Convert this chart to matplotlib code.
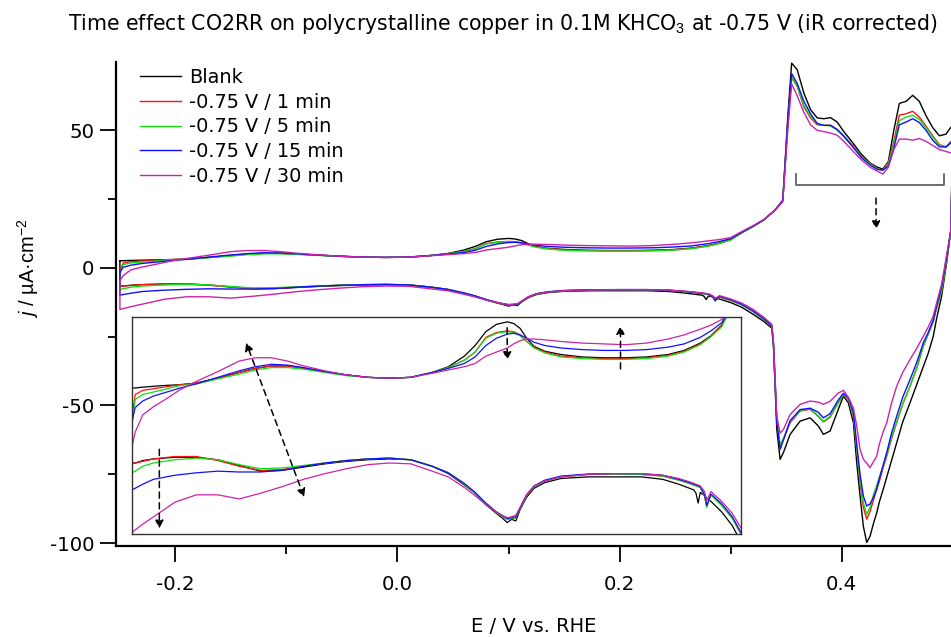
import numpy as np
import matplotlib
matplotlib.use("Agg")
import matplotlib.pyplot as plt
from matplotlib.ticker import MultipleLocator, FormatStrFormatter

plt.rcParams['font.family'] = ['DejaVu Sans']
plt.rcParams['axes.unicode_minus'] = False
plt.rcParams['mathtext.fontset'] = 'custom'
plt.rcParams['mathtext.rm'] = 'Liberation Sans'
plt.rcParams['mathtext.it'] = 'Liberation Sans:italic'

# potential grid, anodic (forward) scan, V vs RHE
e_up = [-0.25, -0.247, -0.24, -0.23, -0.22, -0.205, -0.19, -0.17, -0.15, -0.135,
        -0.12, -0.105, -0.09, -0.07, -0.05, -0.03, -0.01, 0.01, 0.03, 0.045,
        0.06, 0.07, 0.08, 0.09, 0.1, 0.106, 0.112, 0.118, 0.125, 0.135,
        0.15, 0.17, 0.19, 0.21, 0.23, 0.25, 0.265, 0.28, 0.29, 0.3,
        0.31, 0.32, 0.33, 0.34, 0.347, 0.3515, 0.355, 0.36, 0.366, 0.372,
        0.378, 0.384, 0.39, 0.396, 0.402, 0.41, 0.418, 0.426, 0.432, 0.437,
        0.442, 0.447, 0.452, 0.458, 0.464, 0.47, 0.476, 0.482, 0.488, 0.494,
        0.5]

# potential grid, cathodic (return) scan
e_down = [0.4984, 0.4945, 0.49, 0.4855, 0.4825, 0.478, 0.4735, 0.468, 0.4616, 0.455,
          0.4496, 0.445, 0.4406, 0.4375, 0.434, 0.4316, 0.4286, 0.4256, 0.4226, 0.4196,
          0.4166, 0.4136, 0.4106, 0.406, 0.4016, 0.397, 0.3896, 0.3836, 0.3791, 0.3716,
          0.3626, 0.3536, 0.3476, 0.3446, 0.3416, 0.3386, 0.3371, 0.33, 0.32, 0.31,
          0.3, 0.29, 0.286, 0.284, 0.28, 0.278, 0.276, 0.274, 0.27, 0.26,
          0.245, 0.225, 0.2, 0.175, 0.15, 0.135, 0.125, 0.118, 0.112, 0.108,
          0.104, 0.1, 0.095, 0.09, 0.08, 0.07, 0.06, 0.045, 0.03, 0.01,
          -0.01, -0.03, -0.05, -0.07, -0.09, -0.11, -0.13, -0.15, -0.17, -0.19,
          -0.21, -0.23, -0.24, -0.247, -0.25]

# current density, uA/cm2
blank_up = [2.6, 2.6, 2.7, 2.8, 2.9, 3.0, 3.2, 3.8, 4.5, 5.0,
            5.3, 5.3, 5.0, 4.6, 4.2, 3.9, 3.8, 3.9, 4.5, 5.2,
            6.5, 7.8, 9.5, 10.4, 10.7, 10.5, 9.9, 8.7, 7.7, 7.1,
            6.7, 6.4, 6.3, 6.3, 6.4, 6.7, 7.2, 8.1, 9.0, 10.3,
            12.8, 15.0, 17.5, 21.0, 24.5, 55.0, 74.4, 72.0, 63.5, 57.5,
            54.5, 54.2, 54.6, 53.0, 49.5, 45.5, 41.2, 38.0, 36.6, 35.9,
            38.5, 50.0, 59.8, 60.5, 62.7, 60.5, 55.3, 51.0, 48.0, 48.6,
            52.0]
blank_down = [13.8, 1.7, -10.4, -18.5, -24.9, -31.0, -36.0, -42.0, -49.0, -56.0,
              -63.5, -70.0, -76.0, -80.4, -85.0, -89.0, -93.0, -97.5, -99.8, -94.0,
              -82.9, -70.8, -56.3, -49.0, -46.6, -51.4, -59.3, -60.5, -57.5, -54.5,
              -55.7, -60.5, -67.1, -69.6, -58.7, -28.5, -21.9, -19.5, -16.8, -14.3,
              -12.6, -11.3, -10.9, -10.6, -10.2, -11.5, -10.3, -9.9, -9.7, -9.2,
              -8.6, -8.3, -8.3, -8.3, -8.5, -9.0, -9.7, -10.8, -12.3, -13.7,
              -13.5, -13.9, -13.3, -12.8, -11.7, -10.3, -9.3, -7.9, -7.0, -6.2,
              -6.1, -6.2, -6.4, -6.7, -7.1, -7.5, -7.6, -6.9, -6.2, -5.9,
              -5.9, -6.1, -6.3, -6.6, -6.6]

min1_up = [-1.0, 1.8, 2.3, 2.5, 2.7, 3.0, 3.2, 3.8, 4.5, 5.0,
           5.3, 5.3, 5.0, 4.6, 4.2, 3.9, 3.8, 3.9, 4.5, 5.1,
           6.0, 7.0, 8.8, 9.4, 9.6, 9.5, 9.1, 8.3, 7.6, 7.0,
           6.5, 6.3, 6.2, 6.2, 6.3, 6.6, 7.1, 8.0, 8.9, 10.2,
           12.8, 15.0, 17.5, 21.0, 24.5, 52.0, 69.3, 66.0, 58.5, 54.5,
           52.0, 51.8, 51.8, 50.2, 48.0, 44.5, 40.5, 37.8, 36.1, 35.5,
           38.0, 46.0, 55.5, 56.0, 56.9, 54.8, 51.5, 48.0, 44.8, 44.0,
           46.6]
min1_down = [13.8, 2.5, -8.5, -14.6, -19.5, -24.0, -28.5, -36.0, -43.0, -49.5,
             -56.3, -62.0, -68.5, -72.5, -77.5, -80.5, -84.5, -88.5, -91.3, -87.0,
             -78.0, -66.0, -53.9, -47.8, -46.0, -49.0, -54.3, -56.0, -54.0, -51.4,
             -52.0, -56.3, -62.3, -64.7, -55.0, -27.5, -21.0, -18.8, -15.8, -13.4,
             -11.8, -10.5, -12.0, -10.6, -9.6, -9.5, -9.4, -9.3, -9.1, -8.7,
             -8.2, -8.0, -7.95, -8.0, -8.3, -8.8, -9.5, -10.6, -12.2, -13.3,
             -13.4, -13.5, -13.1, -12.7, -11.6, -10.3, -9.2, -7.8, -7.0, -6.2,
             -6.0, -6.1, -6.3, -6.6, -7.0, -7.4, -7.5, -7.0, -6.3, -5.8,
             -5.8, -6.1, -6.4, -6.6, -6.7]

min5_up = [-2.0, 1.2, 1.8, 2.1, 2.4, 2.9, 3.1, 3.7, 4.3, 4.8,
           5.1, 5.1, 4.9, 4.5, 4.1, 3.9, 3.8, 3.9, 4.5, 5.1,
           6.0, 7.0, 8.7, 9.3, 9.5, 9.4, 9.0, 8.3, 7.5, 6.9,
           6.4, 6.2, 6.1, 6.1, 6.2, 6.5, 7.0, 7.9, 8.9, 10.1,
           12.7, 14.9, 17.4, 20.9, 24.5, 52.0, 69.0, 66.0, 59.0, 55.0,
           52.3, 51.8, 51.6, 50.0, 47.8, 44.2, 40.3, 37.6, 36.0, 35.5,
           37.8, 45.0, 53.5, 54.8, 55.4, 54.0, 51.0, 47.6, 44.6, 44.0,
           46.2]
min5_down = [13.8, 2.5, -8.5, -14.6, -19.5, -24.0, -28.5, -36.0, -43.0, -49.5,
             -56.0, -61.5, -68.0, -72.0, -76.0, -79.0, -82.5, -87.0, -89.5, -85.5,
             -77.0, -65.5, -53.5, -47.6, -46.0, -49.0, -54.0, -55.8, -53.8, -51.2,
             -51.8, -56.0, -62.0, -64.5, -55.0, -27.5, -21.0, -18.8, -15.8, -13.4,
             -11.8, -10.5, -12.0, -10.6, -9.6, -9.5, -9.4, -9.3, -9.1, -8.7,
             -8.2, -8.0, -7.95, -8.0, -8.3, -8.8, -9.5, -10.6, -12.2, -13.3,
             -13.4, -13.5, -13.1, -12.7, -11.6, -10.3, -9.2, -7.8, -7.0, -6.2,
             -6.0, -6.1, -6.3, -6.6, -6.9, -7.2, -7.3, -6.8, -6.2, -6.0,
             -6.2, -6.6, -7.0, -7.6, -7.8]

min15_up = [-1.5, 0.2, 1.0, 1.6, 2.0, 2.6, 3.1, 3.9, 4.7, 5.2,
            5.5, 5.4, 5.1, 4.6, 4.2, 3.9, 3.8, 3.9, 4.5, 5.0,
            5.6, 6.4, 7.8, 8.7, 9.2, 9.3, 9.1, 8.7, 8.2, 7.8,
            7.5, 7.3, 7.2, 7.2, 7.3, 7.6, 8.0, 8.8, 9.6, 10.6,
            12.9, 15.1, 17.5, 21.0, 24.5, 53.0, 70.6, 67.0, 60.5, 56.0,
            52.5, 51.8, 51.8, 50.3, 47.8, 44.0, 40.0, 37.3, 35.8, 35.5,
            37.0, 43.5, 52.0, 53.0, 54.2, 52.8, 50.0, 46.4, 44.0, 43.9,
            46.0]
min15_down = [13.8, 3.5, -7.0, -14.0, -19.0, -23.5, -27.3, -34.0, -40.6, -47.0,
              -53.9, -60.0, -67.1, -71.5, -76.5, -80.4, -83.5, -85.8, -86.5, -83.0,
              -75.0, -64.0, -52.5, -47.2, -45.6, -48.0, -53.0, -54.5, -52.5, -51.0,
              -51.5, -55.5, -62.5, -66.0, -56.0, -27.5, -21.0, -18.5, -15.6, -13.2,
              -11.6, -10.4, -11.8, -10.5, -9.5, -9.4, -9.3, -9.2, -9.0, -8.6,
              -8.1, -7.9, -7.9, -7.95, -8.2, -8.7, -9.4, -10.5, -12.1, -13.2,
              -13.3, -13.4, -13.0, -12.6, -11.5, -10.2, -9.1, -7.8, -7.0, -6.2,
              -6.0, -6.1, -6.3, -6.6, -7.0, -7.5, -7.7, -7.7, -7.6, -7.8,
              -8.1, -8.6, -9.2, -9.7, -9.9]

min30_up = [-4.6, -2.8, -0.7, 0.3, 1.1, 2.4, 3.4, 4.6, 5.9, 6.3,
            6.3, 5.9, 5.3, 4.7, 4.2, 3.9, 3.8, 3.9, 4.4, 4.8,
            5.2, 5.6, 6.5, 7.0, 7.5, 8.0, 8.4, 8.6, 8.6, 8.5,
            8.3, 8.1, 8.0, 7.9, 8.1, 8.6, 9.1, 9.8, 10.3, 11.0,
            13.2, 15.3, 17.6, 21.0, 24.0, 50.0, 66.9, 62.5, 56.5, 52.0,
            50.0, 49.5, 49.0, 48.2, 46.0, 42.5, 39.2, 36.5, 35.2, 34.1,
            36.5, 43.0, 46.8, 46.8, 46.4, 47.0, 46.0, 44.5, 43.0, 42.3,
            41.6]
min30_down = [13.8, 4.5, -6.0, -12.8, -17.5, -21.5, -24.9, -29.0, -33.3, -38.0,
              -43.0, -49.0, -56.3, -59.5, -64.0, -68.4, -70.5, -72.6, -71.0, -69.5,
              -66.0, -57.5, -51.0, -47.0, -44.5, -45.5, -48.5, -49.6, -48.8, -48.4,
              -49.6, -53.3, -58.7, -60.1, -53.9, -27.0, -20.5, -18.0, -15.0, -12.8,
              -11.3, -10.1, -11.2, -10.1, -9.4, -9.3, -9.2, -9.1, -8.9, -8.5,
              -8.1, -7.9, -7.9, -8.0, -8.3, -8.8, -9.4, -10.5, -12.0, -13.0,
              -13.2, -13.3, -13.0, -12.6, -11.7, -10.6, -9.6, -8.3, -7.6, -6.7,
              -6.6, -6.8, -7.3, -7.9, -8.6, -9.5, -10.3, -11.0, -10.5, -10.5,
              -11.4, -13.2, -14.1, -14.8, -15.1]

labels = ['Blank', '-0.75 V / 1 min', '-0.75 V / 5 min', '-0.75 V / 15 min', '-0.75 V / 30 min']
colors = ['#000000', '#ff1010', '#10e010', '#1010ff', '#cc22aa']
ups = [blank_up, min1_up, min5_up, min15_up, min30_up]
downs = [blank_down, min1_down, min5_down, min15_down, min30_down]


def cycle(up, down):
    e = np.concatenate([e_up, e_down, e_up[:1]])
    j = np.concatenate([up, down, up[:1]])
    return e, j


fig = plt.figure(figsize=(9.51, 6.37), dpi=100)
ax = fig.add_axes([0.122, 0.1436, 0.878, 0.759])

for up, down, c, lab in zip(ups, downs, colors, labels):
    e, j = cycle(up, down)
    ax.plot(e, j, color=c, lw=1.0, label=lab)

ax.set_xlim(-0.2535, 0.4985)
ax.set_ylim(-100.9, 74.8)
ax.xaxis.set_major_locator(MultipleLocator(0.2))
ax.xaxis.set_minor_locator(MultipleLocator(0.1))
ax.yaxis.set_major_locator(MultipleLocator(50))
ax.yaxis.set_minor_locator(MultipleLocator(25))
ax.xaxis.set_major_formatter(FormatStrFormatter('%.1f'))
for s in ['top', 'right']:
    ax.spines[s].set_visible(False)
for s in ['left', 'bottom']:
    ax.spines[s].set_linewidth(1.6)
ax.tick_params(which='major', length=11.5, width=1.3, labelsize=14.2)
ax.tick_params(which='minor', length=6, width=1.3)
ax.tick_params(axis='x', which='major', pad=10)
ax.tick_params(axis='y', which='major', pad=4)

ax.set_xlabel('E / V vs. RHE', fontsize=14, labelpad=16)
ax.set_ylabel(r'$\mathit{j}$ / µA·cm$^{-2}$', fontsize=14.5, family='Liberation Sans')
ax.yaxis.set_label_coords(-0.09, 0.573)

fig.text(0.529, 0.963, r'Time effect CO2RR on polycrystalline copper in 0.1M KHCO$_3$ at -0.75 V (iR corrected)',
         ha='center', va='center', fontsize=14.8)

ax.legend(loc='upper left', bbox_to_anchor=(0.015, 1.012), frameon=False, fontsize=13.9,
          handlelength=2.1, handletextpad=0.45, labelspacing=0.3, borderaxespad=0.2)

# bracket + arrow over the anodic features
ax.plot([0.359, 0.359, 0.492, 0.492], [34.1, 30.1, 30.1, 34.1], color='#555555', lw=1.2)
arrow = dict(arrowstyle='-|>', linestyle=(0, (4, 3)), color='black', lw=1.1, mutation_scale=12)
ax.annotate('', xy=(0.431, 13.0), xytext=(0.431, 26.4), arrowprops=arrow)

# inset: zoom on the double layer region
axi = fig.add_axes([0.1388, 0.1617, 0.6404, 0.3407])
for up, down, c in zip(ups, downs, colors):
    e, j = cycle(up, down)
    axi.plot(e, j, color=c, lw=0.9)
axi.set_xlim(-0.25, 0.318)
axi.set_ylim(-15.3, 11.3)
axi.set_xticks([])
axi.set_yticks([])
for s in axi.spines.values():
    s.set_linewidth(1.0)
    s.set_color('#333333')

arrow2 = dict(arrowstyle='<|-|>', linestyle=(0, (4, 3)), color='black', lw=1.1, mutation_scale=12)
axi.annotate('', xy=(-0.1445, 8.48), xytext=(-0.0885, -11.1), arrowprops=arrow2)
axi.annotate('', xy=(-0.2245, -14.98), xytext=(-0.2245, -4.58), arrowprops=arrow)
axi.annotate('', xy=(0.0999, 5.67), xytext=(0.0999, 10.32), arrowprops=arrow)
axi.annotate('', xy=(0.2056, 10.56), xytext=(0.2056, 4.6), arrowprops=arrow)

fig.savefig('out.png', dpi=100)
